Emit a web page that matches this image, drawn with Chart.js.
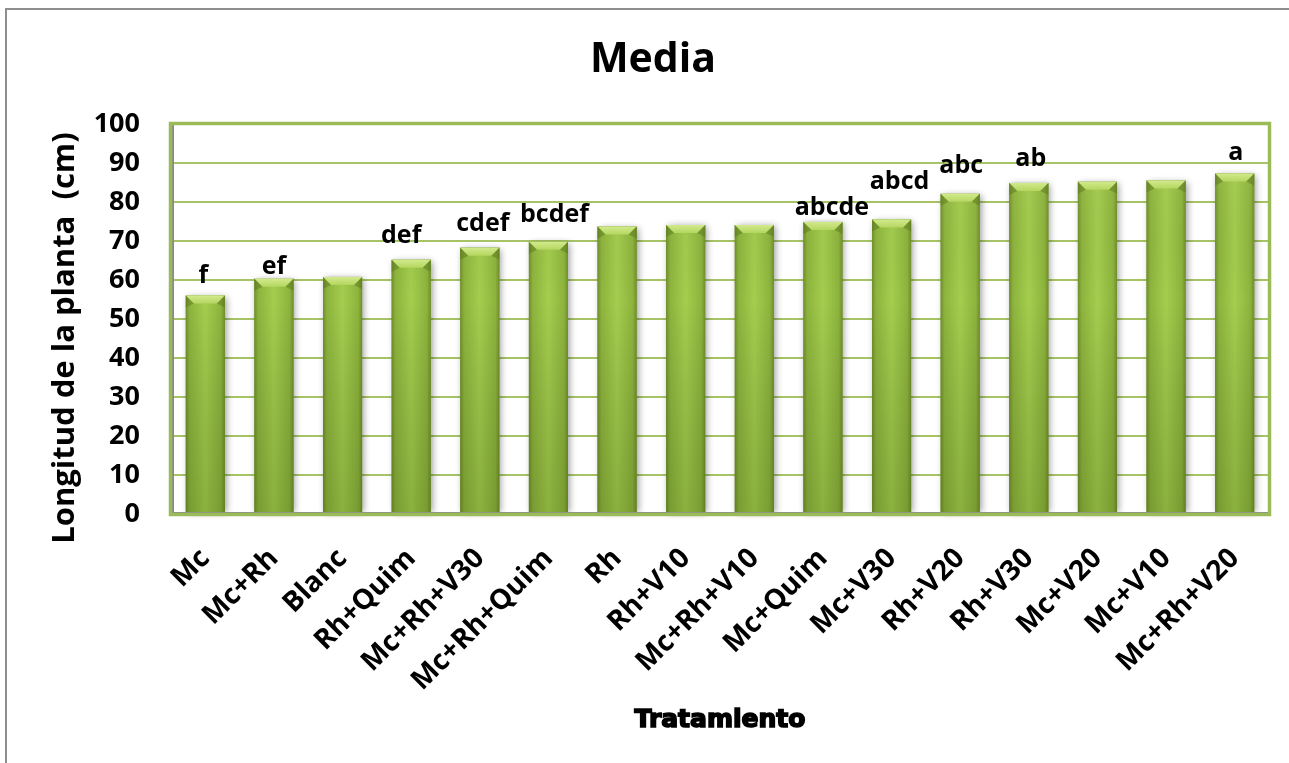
<!DOCTYPE html>
<html>
<head>
<meta charset="utf-8">
<title>Media</title>
<script src="https://cdn.jsdelivr.net/npm/chart.js@4.4.1/dist/chart.umd.min.js"></script>
<style>
  html, body { margin: 0; padding: 0; background: #ffffff; overflow: hidden; }
  #frame { position: absolute; left: 5px; top: 8px; width: 1400px; height: 900px;
           border-left: 2px solid #8e8e8e; border-top: 2px solid #8e8e8e; }
  #wrap { position: absolute; left: 0; top: 0; width: 1289px; height: 763px; }
</style>
</head>
<body>
<div id="frame"></div>
<div id="wrap"><canvas id="grafico" width="1289" height="763"></canvas></div>
<script>
// Treatments, ordered from shortest to tallest mean plant length
const tratamientos = ['Mc', 'Mc+Rh', 'Blanc', 'Rh+Quim', 'Mc+Rh+V30', 'Mc+Rh+Quim', 'Rh', 'Rh+V10',
                      'Mc+Rh+V10', 'Mc+Quim', 'Mc+V30', 'Rh+V20', 'Rh+V30', 'Mc+V20', 'Mc+V10', 'Mc+Rh+V20'];
// Mean plant length (cm)
const longitudMedia = [56.0, 60.3, 60.8, 65.2, 68.3, 69.8, 73.7, 74.1, 74.1, 74.9, 75.5, 82.1, 84.9, 85.2, 85.5, 87.3];
// Significance groups written above the bars
const letrasGrupo = ['f', 'ef', '', 'def', 'cdef', 'bcdef', '', '', '', 'abcde', 'abcd', 'abc', 'ab', '', '', 'a'];
// Value axis ticks
const ticksY = [0, 10, 20, 30, 40, 50, 60, 70, 80, 90, 100];

// Placement of each group letter: [horizontal shift, gap above the bar top] in px
const posLetras = [[-2, 13], [0, 5], [0, 0], [-10, 17], [3, 17], [6, 20], [0, 0], [0, 0],
                   [0, 0], [9, 7], [8, 31], [1, 21], [2, 17], [0, 0], [0, 0], [1, 14]];

const FUENTE = "'Open Sans', 'Noto Sans', sans-serif";
const ANCHO_BARRA = 0.57;

// Horizontal shading of each bar: darker sides, lighter centre
function rellenoBarra(ctx) {
  const chart = ctx.chart;
  const area = chart.chartArea;
  if (!area || ctx.type !== 'data') return '#97bf44';
  const cx = chart.scales.x.getPixelForValue(ctx.dataIndex);
  const half = area.width / tratamientos.length * ANCHO_BARRA / 2;
  const g = chart.ctx.createLinearGradient(cx - half, 0, cx + half, 0);
  g.addColorStop(0, '#6f8f2c');
  g.addColorStop(0.1, '#8db43d');
  g.addColorStop(0.5, '#a4ce4e');
  g.addColorStop(0.9, '#8db43d');
  g.addColorStop(1, '#6f8f2c');
  return g;
}

// Soft shadow behind the bars
const sombraBarras = {
  id: 'sombraBarras',
  beforeDatasetsDraw(chart) {
    const { ctx, chartArea } = chart;
    const meta = chart.getDatasetMeta(0);
    ctx.save();
    ctx.shadowColor = 'rgba(0,0,0,0.4)';
    ctx.shadowBlur = 7;
    ctx.shadowOffsetX = 2;
    ctx.shadowOffsetY = 1;
    ctx.fillStyle = '#7c9c36';
    meta.data.forEach(b => {
      ctx.fillRect(b.x - b.width / 2, b.y, b.width, chartArea.bottom - b.y - 2);
    });
    ctx.restore();
  }
};

// Vertical darkening and bevelled top of each bar, then the plot frame
const relieveBarras = {
  id: 'relieveBarras',
  afterDatasetsDraw(chart) {
    const { ctx, chartArea } = chart;
    const meta = chart.getDatasetMeta(0);
    ctx.save();
    const oscuro = ctx.createLinearGradient(0, chartArea.top, 0, chartArea.bottom);
    oscuro.addColorStop(0, 'rgba(255,255,180,0.10)');
    oscuro.addColorStop(0.45, 'rgba(0,0,0,0)');
    oscuro.addColorStop(1, 'rgba(40,60,0,0.20)');
    meta.data.forEach(b => {
      const L = b.x - b.width / 2, R = b.x + b.width / 2, y = b.y;
      ctx.fillStyle = oscuro;
      ctx.fillRect(L, y, b.width, b.base - y);
      // bevel
      const bev = 8;
      const cara = ctx.createLinearGradient(0, y, 0, y + bev);
      cara.addColorStop(0, '#d2ea8c');
      cara.addColorStop(1, '#b4d660');
      ctx.fillStyle = cara;
      ctx.beginPath();
      ctx.moveTo(L, y); ctx.lineTo(R, y); ctx.lineTo(R - bev, y + bev); ctx.lineTo(L + bev, y + bev);
      ctx.closePath(); ctx.fill();
      ctx.fillStyle = 'rgba(90,120,30,0.5)';
      ctx.beginPath(); ctx.moveTo(L, y); ctx.lineTo(L + bev, y + bev); ctx.lineTo(L, y + bev + 4); ctx.closePath(); ctx.fill();
      ctx.beginPath(); ctx.moveTo(R, y); ctx.lineTo(R - bev, y + bev); ctx.lineTo(R, y + bev + 4); ctx.closePath(); ctx.fill();
    });
    // axis lines
    ctx.strokeStyle = '#8a8a8a';
    ctx.lineWidth = 2;
    ctx.beginPath();
    ctx.moveTo(chartArea.left + 2, chartArea.top + 1);
    ctx.lineTo(chartArea.left + 2, chartArea.bottom - 1);
    ctx.lineTo(chartArea.right - 1, chartArea.bottom - 1);
    ctx.stroke();
    // plot frame
    ctx.strokeStyle = '#9bbb59';
    ctx.lineWidth = 3.5;
    ctx.strokeRect(chartArea.left - 0.5, chartArea.top - 0.5, chartArea.width + 1, chartArea.height + 1);
    ctx.restore();
  }
};

// Group letters above the bars
const letras = {
  id: 'letras',
  afterDatasetsDraw(chart) {
    const { ctx } = chart;
    const meta = chart.getDatasetMeta(0);
    ctx.save();
    ctx.font = "bold 25px " + FUENTE;
    ctx.fillStyle = '#000000';
    ctx.textAlign = 'center';
    ctx.textBaseline = 'alphabetic';
    meta.data.forEach((b, i) => {
      const t = letrasGrupo[i];
      if (!t) return;
      const [dx, gap] = posLetras[i];
      ctx.fillText(t, b.x + dx, b.y - gap);
    });
    ctx.restore();
  }
};

// Chart title and axis titles
const titulos = {
  id: 'titulos',
  afterDraw(chart) {
    const { ctx, chartArea } = chart;
    ctx.save();
    ctx.fillStyle = '#000000';
    ctx.textAlign = 'center';
    ctx.textBaseline = 'alphabetic';
    ctx.font = "bold 41px " + FUENTE;
    ctx.fillText('Media', 653, 72);
    ctx.restore();

    ctx.save();
    ctx.fillStyle = '#000000';
    ctx.textAlign = 'center';
    ctx.textBaseline = 'alphabetic';
    ctx.translate(74, 338);
    ctx.rotate(-Math.PI / 2);
    ctx.font = "bold 31px " + FUENTE;
    ctx.fillText('Longitud de la planta  (cm)', 0, 0);
    ctx.restore();

    ctx.save();
    ctx.font = "bold 25px 'DejaVu Sans', sans-serif";
    ctx.fillStyle = '#000000';
    ctx.strokeStyle = '#000000';
    ctx.lineWidth = 1.6;
    ctx.textAlign = 'center';
    ctx.textBaseline = 'alphabetic';
    const cx = (chartArea.left + chartArea.right) / 2;
    ctx.fillText('Tratamiento', cx, 727);
    ctx.strokeText('Tratamiento', cx, 727);
    ctx.restore();
  }
};

new Chart(document.getElementById('grafico'), {
  type: 'bar',
  data: {
    labels: tratamientos,
    datasets: [{
      label: 'Media',
      data: longitudMedia,
      backgroundColor: rellenoBarra,
      borderWidth: 0,
      categoryPercentage: 1.0,
      barPercentage: ANCHO_BARRA
    }]
  },
  options: {
    responsive: false,
    animation: false,
    layout: { padding: { left: 0, right: 20, top: 124, bottom: 0 } },
    plugins: {
      legend: { display: false },
      tooltip: { enabled: false },
      title: { display: false }
    },
    scales: {
      x: {
        grid: { display: false },
        border: { display: false },
        ticks: {
          autoSkip: false,
          minRotation: 45,
          maxRotation: 45,
          padding: 20,
          color: '#000000',
          font: { family: FUENTE, size: 28, weight: 'bold' }
        },
        afterFit(s) { s.height = 249; }
      },
      y: {
        min: 0,
        max: 100,
        afterBuildTicks(s) { s.ticks = ticksY.map(v => ({ value: v })); },
        grid: { color: '#a6c466', lineWidth: 2, drawTicks: false },
        border: { display: false },
        ticks: {
          padding: 31,
          color: '#000000',
          font: { family: FUENTE, size: 27, weight: 'bold' }
        },
        afterFit(s) { s.width = 171; }
      }
    }
  },
  plugins: [sombraBarras, relieveBarras, letras, titulos]
});
</script>
</body>
</html>
